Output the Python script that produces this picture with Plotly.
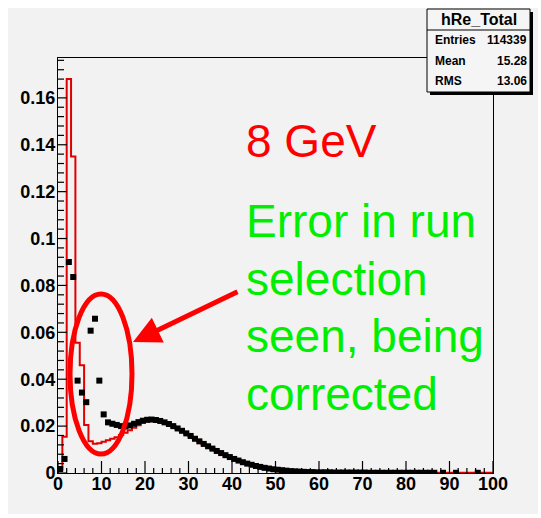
import plotly.graph_objects as go

# ---- histogram contents (100 bins of width 1 on [0, 100]) ----
bin_edges = list(range(0, 101))
bin_centers = [i + 0.5 for i in range(100)]

# data points (black squares); None = empty bin
data_vals = [
    0.0017, 0.0060, 0.0900, 0.0836, 0.0394, 0.0343, 0.0302, 0.0607, 0.0658, 0.0394,
    0.0250, 0.0216, 0.0210, 0.0205, 0.0200, 0.0199, 0.0203, 0.0210, 0.0217, 0.0223,
    0.0227, 0.0228, 0.0226, 0.0222, 0.0216, 0.0209, 0.0200, 0.0190, 0.0180, 0.0169,
    0.0158, 0.0146, 0.0135, 0.0124, 0.0114, 0.0104, 0.0094, 0.0085, 0.0076, 0.0068,
    0.0060, 0.0053, 0.0046, 0.0040, 0.0035, 0.0030, 0.0026, 0.0022, 0.0019, 0.0016,
    0.0014, 0.0012, 0.0010, 0.0008, 0.0007, 0.0006, 0.0005, 0.0004, 0.0004, 0.0003,
    0.0003, 0.0003, 0.0003, 0.0002, 0.0002, 0.0002, 0.0002, 0.0002, 0.0002, 0.0002,
    0.0002, 0.0001, 0.0001, 0.0001, 0.0001, 0.0001, 0.0001, 0.0001, 0.0001, 0.0001,
    0.0001, 0.0001, 0.0001, 0.0001, 0.0001, 0.0001, 0.0001, None, 0.0001, None,
    None, 0.0001, None, None, None, None, 0.0001, None, None, None,
]

# reference histogram (red outline)
ref_vals = [
    0.0015, 0.0155, 0.1680, 0.1350, 0.0555, 0.0460, 0.0205, 0.0135, 0.0125, 0.0127,
    0.0133, 0.0140, 0.0146, 0.0153, 0.0162, 0.0172, 0.0182, 0.0193, 0.0204, 0.0214,
    0.0220, 0.0224, 0.0224, 0.0221, 0.0215, 0.0207, 0.0198, 0.0188, 0.0178, 0.0167,
    0.0156, 0.0145, 0.0134, 0.0123, 0.0113, 0.0103, 0.0093, 0.0084, 0.0075, 0.0067,
    0.0059, 0.0052, 0.0045, 0.0039, 0.0034, 0.0029, 0.0025, 0.0021, 0.0018, 0.0015,
    0.0013, 0.0011, 0.0009, 0.0008, 0.0007, 0.0006, 0.0005, 0.0004, 0.0004, 0.0003,
    0.0003, 0.0003, 0.0003, 0.0002, 0.0002, 0.0002, 0.0002, 0.0002, 0.0002, 0.0002,
    0.0002, 0.0002, 0.0001, 0.0001, 0.0001, 0.0001, 0.0001, 0.0001, 0.0001, 0.0001,
    0.0001, 0.0001, 0.0001, 0.0001, 0.0001, 0.0001, 0.0001, 0.0001, 0.0001, 0.0001,
    0.0001, 0.0001, 0.0001, 0.0001, 0.0001, 0.0001, 0.0001, 0.0001, 0.0001, 0.0001,
]

x_ticks = [0, 10, 20, 30, 40, 50, 60, 70, 80, 90, 100]
x_tick_labels = ["0", "10", "20", "30", "40", "50", "60", "70", "80", "90", "100"]
y_ticks = [0, 0.02, 0.04, 0.06, 0.08, 0.10, 0.12, 0.14, 0.16]
y_tick_labels = ["0", "0.02", "0.04", "0.06", "0.08", "0.1", "0.12", "0.14", "0.16"]

stats_title = "hRe_Total"
stats_rows = [("Entries", "114339"), ("Mean", "15.28"), ("RMS", "13.06")]

energy_label = "8 GeV"
note_lines = ["Error in run", "selection", "seen, being", "corrected"]

# ---- page geometry (pixels) ----
W, H = 541, 518
L, R, T, B = 58, 493, 58, 473
X_RANGE = (0, 100)
Y_RANGE = (0, 0.177)


def fx(p):
    return (p - L) / (R - L)


def fy(q):
    return (B - q) / (B - T)


FONT = "Liberation Sans, Arial, Helvetica, sans-serif"
CANVAS = "#f2f2f2"
RED = "#e00000"
GREEN = "#00ee00"

fig = go.Figure()

# step outline of the reference histogram
step_x = [0] + bin_edges + [100]
step_y = [0] + ref_vals + [ref_vals[-1], 0]
fig.add_trace(go.Scatter(
    x=step_x, y=step_y, mode="lines", line=dict(color=RED, width=2, shape="hv"),
    hoverinfo="skip", showlegend=False,
))

# data points
fig.add_trace(go.Scatter(
    x=bin_centers, y=data_vals, mode="markers",
    marker=dict(symbol="square", size=6, color="black", line=dict(width=0)),
    showlegend=False,
))

shapes = []
# inward ROOT-style tick marks: positioned on the axes, length given in pixels
for i in range(0, 51):
    v = X_RANGE[0] + 2 * i
    ln = 12 if v in x_ticks else 5
    shapes.append(dict(type="line", xref="x", yref="y", ysizemode="pixel",
                       yanchor=Y_RANGE[0], x0=v, x1=v, y0=0, y1=ln,
                       line=dict(color="black", width=1.2), layer="above"))
for i in range(0, 45):
    v = 0.004 * i
    if v > Y_RANGE[1]:
        break
    ln = 9 if i % 5 == 0 else 6
    shapes.append(dict(type="line", xref="x", yref="y", xsizemode="pixel",
                       xanchor=X_RANGE[0], x0=0, x1=ln, y0=v, y1=v,
                       line=dict(color="black", width=1.2), layer="above"))

# thin white border around the grey canvas
for (a, b, c, d) in [(0, W, 0, 8), (0, W, 514, H), (0, 8, 0, H), (538, W, 0, H)]:
    shapes.append(dict(type="rect", xref="paper", yref="paper",
                       x0=fx(a), x1=fx(b), y0=fy(d), y1=fy(c),
                       fillcolor="white", line=dict(width=0), layer="above"))
# statistics box: shadow, body, title separator
shapes.append(dict(type="rect", xref="paper", yref="paper",
                   x0=fx(430), x1=fx(533), y0=fy(95), y1=fy(12),
                   fillcolor="black", line=dict(width=0), layer="above"))
shapes.append(dict(type="rect", xref="paper", yref="paper",
                   x0=fx(427), x1=fx(530), y0=fy(92), y1=fy(9),
                   fillcolor="#f5f5f5", line=dict(color="black", width=1), layer="above"))
shapes.append(dict(type="line", xref="paper", yref="paper",
                   x0=fx(427), x1=fx(530), y0=fy(30), y1=fy(30),
                   line=dict(color="black", width=1), layer="above"))
# ellipse around the problem region
shapes.append(dict(type="circle", xref="paper", yref="paper",
                   x0=fx(70), x1=fx(132), y0=fy(454), y1=fy(294),
                   line=dict(color="#ff0000", width=5), layer="above"))

annotations = []
annotations.append(dict(xref="paper", yref="paper", x=fx(478.5), y=fy(19.5),
                        text=stats_title, showarrow=False, xanchor="center", yanchor="middle",
                        font=dict(family=FONT, size=16, color="black", weight="bold")))
for i, (name, val) in enumerate(stats_rows):
    yy = fy(40.5 + 20.3 * i)
    annotations.append(dict(xref="paper", yref="paper", x=fx(433), y=yy, text=name,
                            showarrow=False, xanchor="left", yanchor="middle",
                            font=dict(family=FONT, size=12, color="black", weight="bold")))
    annotations.append(dict(xref="paper", yref="paper", x=fx(529), y=yy, text=val,
                            showarrow=False, xanchor="right", yanchor="middle",
                            font=dict(family=FONT, size=12, color="black", weight="bold")))

annotations.append(dict(xref="paper", yref="paper", x=fx(244), y=fy(141),
                        text=energy_label, showarrow=False, xanchor="left", yanchor="middle",
                        font=dict(family=FONT, size=46, color="#ff0000")))
for i, line in enumerate(note_lines):
    annotations.append(dict(xref="paper", yref="paper", x=fx(244), y=fy(221 + 57.5 * i),
                            text=line, showarrow=False, xanchor="left", yanchor="middle",
                            font=dict(family=FONT, size=46, color=GREEN)))

# arrow pointing at the ellipse
annotations.append(dict(xref="paper", yref="paper", x=fx(133), y=fy(342),
                        ax=106, ay=-51, axref="pixel", ayref="pixel", text="",
                        showarrow=True, arrowhead=2, arrowsize=1.1, arrowwidth=5,
                        arrowcolor="#ff0000"))

tickfont = dict(family=FONT, size=18, color="black", weight="bold")

fig.update_layout(
    width=W, height=H,
    margin=dict(l=L, r=W - R, t=T, b=H - B, pad=0),
    paper_bgcolor=CANVAS,
    plot_bgcolor=CANVAS,
    shapes=shapes,
    annotations=annotations,
)
fig.update_xaxes(
    range=list(X_RANGE), tickmode="array", tickvals=x_ticks, ticktext=x_tick_labels,
    ticks="", showline=True, linecolor="black", linewidth=1, mirror=True,
    showgrid=False, zeroline=False, tickfont=tickfont, ticklabelstandoff=-6,
)
fig.update_yaxes(
    range=list(Y_RANGE), tickmode="array", tickvals=y_ticks, ticktext=y_tick_labels,
    ticks="", showline=True, linecolor="black", linewidth=1, mirror=True,
    showgrid=False, zeroline=False, tickfont=tickfont, ticklabelstandoff=-2,
)

fig.write_html("out.html")
